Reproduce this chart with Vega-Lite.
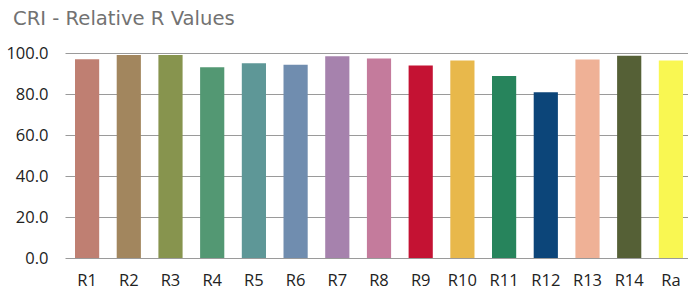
{
  "$schema": "https://vega.github.io/schema/vega-lite/v6.json",
  "autosize": {"type": "none"},
  "padding": {"left": 65, "top": 53, "right": 0, "bottom": 37},
  "width": 628,
  "height": 205,
  "background": "white",
  "title": {
    "text": "CRI - Relative R Values",
    "anchor": "start",
    "frame": "group",
    "dx": -52,
    "dy": 19,
    "offset": 15,
    "baseline": "bottom",
    "font": "DejaVu Sans",
    "fontSize": 19.6,
    "fontWeight": "normal",
    "color": "#727272"
  },
  "data": {
    "values": [
      {"name": "R1", "value": 97, "color": "#BF7F72"},
      {"name": "R2", "value": 99, "color": "#A2865E"},
      {"name": "R3", "value": 99, "color": "#87944E"},
      {"name": "R4", "value": 93, "color": "#539873"},
      {"name": "R5", "value": 95, "color": "#5E9797"},
      {"name": "R6", "value": 94.3, "color": "#708DAF"},
      {"name": "R7", "value": 98.4, "color": "#A682AD"},
      {"name": "R8", "value": 97.3, "color": "#C47B9C"},
      {"name": "R9", "value": 93.9, "color": "#C41233"},
      {"name": "R10", "value": 96.3, "color": "#E8B84B"},
      {"name": "R11", "value": 88.8, "color": "#27845C"},
      {"name": "R12", "value": 80.9, "color": "#0C4579"},
      {"name": "R13", "value": 96.8, "color": "#EFB196"},
      {"name": "R14", "value": 98.7, "color": "#556036"},
      {"name": "Ra", "value": 96.3, "color": "#F9F752"}
    ]
  },
  "mark": {"type": "bar"},
  "encoding": {
    "x": {
      "field": "name",
      "type": "nominal",
      "sort": null,
      "scale": {"paddingInner": 0.42, "paddingOuter": 0.24},
      "axis": {
        "title": null,
        "labelAngle": 0,
        "domain": false,
        "ticks": false,
        "labelPadding": 14,
        "labelFont": "Open Sans",
        "labelFontSize": 16.5,
        "labelColor": "#222222"
      }
    },
    "y": {
      "field": "value",
      "type": "quantitative",
      "scale": {"domain": [0, 100]},
      "axis": {
        "title": null,
        "values": [0, 20, 40, 60, 80, 100],
        "format": ".1f",
        "domain": false,
        "ticks": false,
        "grid": true,
        "gridColor": "#9a9a9a",
        "gridWidth": 1,
        "labelPadding": 17,
        "labelFont": "Open Sans",
        "labelFontSize": 16.5,
        "labelColor": "#222222"
      }
    },
    "color": {"field": "color", "type": "nominal", "scale": null, "legend": null}
  },
  "config": {"view": {"stroke": null}}
}
